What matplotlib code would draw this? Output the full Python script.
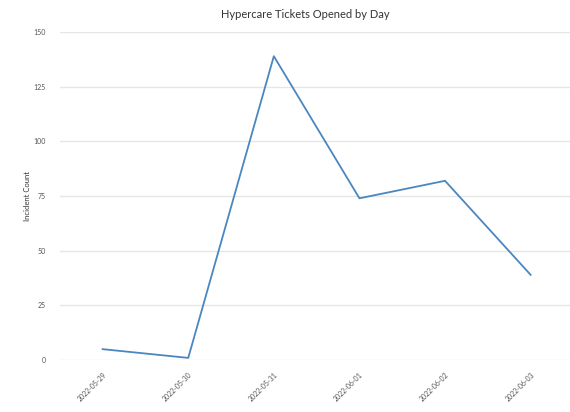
import matplotlib
matplotlib.use("Agg")
import matplotlib.pyplot as plt

dates = ["2022-05-29", "2022-05-30", "2022-05-31", "2022-06-01", "2022-06-02", "2022-06-03"]
incidents = [5, 1, 139, 74, 82, 39]
y_ticks = [0, 25, 50, 75, 100, 125, 150]

plt.rcParams["font.family"] = ["Lato", "DejaVu Sans"]

fig = plt.figure(figsize=(5.70, 4.12), dpi=100)
ax = fig.add_axes([0.105, 0.126, 0.895, 0.796])

x = list(range(len(dates)))
ax.plot(x, incidents, color="#4a86c0", linewidth=1.3, clip_on=False, zorder=3)

ax.set_xlim(-0.5, 5.46)
ax.set_ylim(0, 150)
ax.set_yticks(y_ticks)
ax.set_yticklabels([str(v) for v in y_ticks], fontsize=5, color="#555555")
ax.set_xticks(x)
ax.set_xticklabels(dates, rotation=45, ha="right", rotation_mode="anchor",
                   fontsize=5, color="#555555")

ax.grid(axis="y", color="#e6e6e6", linewidth=1.0)
ax.set_axisbelow(True)
for s in ax.spines.values():
    s.set_visible(False)
ax.tick_params(axis="both", length=0, pad=8)
ax.tick_params(axis="y", pad=10)

fig.text(28 / 570, 0.525, "Incident Count", rotation=90, ha="center", va="center",
         fontsize=5.5, color="#333333")
fig.text(0.535, 0.965, "Hypercare Tickets Opened by Day", ha="center", va="center",
         fontsize=8, color="#333333")

fig.savefig("out.png", dpi=100)
